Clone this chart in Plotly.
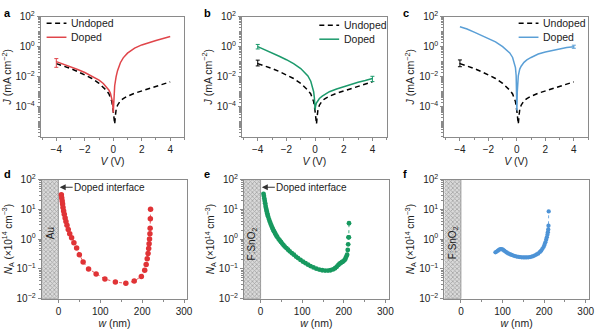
import plotly.graph_objects as go

# ---------------- data ----------------
V_undoped = [-4, -3.5, -3, -2.5, -2, -1.5, -1, -0.7, -0.5, -0.3, -0.2, -0.1, 0, 0.05, 0.1, 0.15,
             0.2, 0.3, 0.5, 0.7, 1, 1.5, 2, 2.5, 3, 3.5, 4]
J_undoped = [7.4e-2, 5.2e-2, 3.5e-2, 2.2e-2, 1.35e-2, 7.6e-3, 3.6e-3, 2.0e-3, 1.26e-3, 7.1e-4, 4.5e-4,
             2.2e-4, 5.0e-5, 1.6e-5, 7e-6, 2.5e-5, 6.3e-5, 1.26e-4, 2.5e-4, 3.5e-4, 5.0e-4, 7.9e-4,
             1.12e-3, 1.6e-3, 2.2e-3, 3.2e-3, 4.5e-3]

V_doped = [-4, -3.5, -3, -2.5, -2, -1.5, -1, -0.7, -0.5, -0.3, -0.2, -0.1, -0.05, 0, 0.03, 0.05,
           0.1, 0.2, 0.3, 0.5, 0.7, 1, 1.5, 2, 2.5, 3, 3.5, 4]
J_doped_a = [0.1, 0.069, 0.046, 0.030, 0.019, 0.0112, 5.9e-3, 3.5e-3, 2.2e-3, 1.26e-3, 7.9e-4, 4e-4,
             2e-4, 4e-5, 1.6e-4, 5e-4, 2.5e-3, 0.01, 0.025, 0.085, 0.18, 0.37, 0.8, 1.3, 1.9, 2.6,
             3.5, 4.7]
J_doped_b = [1.0, 0.63, 0.38, 0.23, 0.135, 0.074, 0.035, 0.019, 0.0112, 5e-3, 2.5e-3, 1e-3, 4e-4,
             6.3e-5, 1.0e-4, 1.26e-4, 1.8e-4, 2.5e-4, 3.5e-4, 5e-4, 6.6e-4, 1e-3, 1.5e-3, 2.2e-3,
             3.2e-3, 4.3e-3, 5.6e-3, 7.6e-3]
J_doped_c = [21, 15, 9.3, 5.8, 3.5, 2.1, 1.0, 0.6, 0.38, 0.19, 0.1, 0.04, 0.0115, 5.6e-5, 1e-3,
             3.5e-3, 0.0115, 0.032, 0.05, 0.09, 0.13, 0.19, 0.32, 0.44, 0.56, 0.71, 0.87, 1.0]

# error bars (value, upper, lower) at end points
err_a_doped = dict(V=[-4], J=[0.1], up=[0.06], down=[0.058])
err_b_undoped = dict(V=[-4], J=[0.074], up=[0.052], down=[0.022])
err_b_doped = dict(V=[-4, 4], J=[1.0, 7.6e-3], up=[0.4, 3.0e-3], down=[0.3, 2.9e-3])
err_c_undoped = dict(V=[-4], J=[0.074], up=[0.056], down=[0.028])
err_c_doped = dict(V=[4], J=[1.0], up=[0.25], down=[0.22])

w_d = [7, 8, 9, 10, 11, 12.5, 14, 16, 18, 20.5, 23.5, 27, 31.5, 37, 43.5, 50, 59, 72, 90, 111,
       136, 161, 181, 198, 206, 209.5, 212, 214, 215.5, 216.5, 217.5, 218.5, 219, 219.5, 220]
NA_d = [31, 24, 19, 15, 11.5, 8.8, 6.8, 5.1, 3.9, 2.9, 2.1, 1.5, 1.1, 0.75, 0.5, 0.3, 0.17, 0.1,
        0.068, 0.046, 0.036, 0.033, 0.039, 0.056, 0.09, 0.14, 0.22, 0.33, 0.48, 0.7, 1.0, 1.5,
        2.3, 4.8, 10]

w_e = [7, 8, 9, 10, 11, 12, 13, 14, 15, 16, 17, 18, 20, 22, 24, 26, 28, 30, 32, 34, 36, 38, 40,
       43, 46, 49, 52, 55, 58, 62, 66, 70, 75, 80, 85, 90, 96, 102, 108, 114, 120, 127, 134, 141,
       148, 155, 162, 168, 174, 179, 183, 187, 190, 193, 196, 199, 202, 204, 206, 208, 209.5,
       210.5, 211.5, 212, 212.5]
NA_e = [33, 28, 23, 19, 16, 13, 11, 9.5, 8.3, 7.2, 6.4, 5.7, 4.7, 3.9, 3.3, 2.8, 2.4, 2.1, 1.85,
        1.65, 1.45, 1.3, 1.18, 1.02, 0.9, 0.8, 0.71, 0.63, 0.56, 0.5, 0.44, 0.39, 0.34, 0.3, 0.26,
        0.23, 0.2, 0.175, 0.155, 0.138, 0.124, 0.112, 0.102, 0.095, 0.09, 0.088, 0.088, 0.09,
        0.096, 0.105, 0.118, 0.135, 0.15, 0.16, 0.17, 0.18, 0.2, 0.22, 0.26, 0.3, 0.43, 0.67,
        1.15, 1.15, 3.4]

w_f = [83, 86, 89, 92, 95, 98, 101, 104, 107, 110, 114, 118, 122, 126, 130, 134, 138, 142, 146,
       150, 154, 158, 162, 166, 170, 174, 178, 182, 186, 190, 193, 196, 199, 201, 203, 205, 206.5,
       208, 209, 210, 210.5, 211]
NA_f = [0.36, 0.38, 0.41, 0.44, 0.46, 0.46, 0.44, 0.41, 0.38, 0.355, 0.33, 0.31, 0.295, 0.28,
        0.27, 0.26, 0.255, 0.25, 0.245, 0.243, 0.242, 0.243, 0.245, 0.25, 0.258, 0.27, 0.285,
        0.305, 0.33, 0.37, 0.41, 0.47, 0.55, 0.65, 0.78, 0.95, 1.15, 1.4, 1.7, 2.1, 2.8, 8.5]

substrate_w = [-40, 0]          # hatched contact layer region
substrate_names = ["Au", "F:SnO<sub>2</sub>", "F:SnO<sub>2</sub>"]
legend_labels = ["Undoped", "Doped"]

RED, GREEN, BLUE = "#e0454a", "#1c9a6c", "#5a9fd6"
RED_M, GREEN_M, BLUE_M = "#e03336", "#17995f", "#4d93d6"
FONT = "Arial, 'Liberation Sans', sans-serif"
AXC = "#8a8a8a"

W, H = 600, 334
def xd(x0, x1):
    return [x0 / W, x1 / W]
def yd(y0, y1):
    return [1 - y1 / H, 1 - y0 / H]

fig = go.Figure()

# ---------------- top panels ----------------
top_cols = [(41, 186), (244, 390), (448, 593)]
doped = [J_doped_a, J_doped_b, J_doped_c]
colors = [RED, GREEN, BLUE]
errs_und = [None, err_b_undoped, err_c_undoped]
errs_dop = [err_a_doped, err_b_doped, err_c_doped]
UND_DASH = "5px,3.5px"
for i in range(3):
    xa = "x" if i == 0 else f"x{i+1}"
    ya = "y" if i == 0 else f"y{i+1}"
    fig.add_trace(go.Scatter(x=V_undoped, y=J_undoped, mode="lines", name=legend_labels[0],
                             line=dict(color="black", width=1.5, dash=UND_DASH),
                             xaxis=xa, yaxis=ya, showlegend=False))
    fig.add_trace(go.Scatter(x=V_doped, y=doped[i], mode="lines", name=legend_labels[1],
                             line=dict(color=colors[i], width=1.5),
                             xaxis=xa, yaxis=ya, showlegend=False))
    for e, c in ((errs_und[i], "black"), (errs_dop[i], colors[i])):
        if e is None:
            continue
        fig.add_trace(go.Scatter(x=e["V"], y=e["J"], mode="markers", showlegend=False,
                                 marker=dict(size=1, color=c),
                                 error_y=dict(type="data", array=e["up"], arrayminus=e["down"],
                                              color=c, thickness=1, width=2),
                                 xaxis=xa, yaxis=ya))

# ---------------- bottom panels ----------------
bot_cols = [(42, 189), (246, 392), (448, 594)]
ws = [w_d, w_e, w_f]
nas = [NA_d, NA_e, NA_f]
mcols = [RED_M, GREEN_M, BLUE_M]
msizes = [5.5, 4.8, 4.3]
for i in range(3):
    k = i + 4
    xa, ya = f"x{k}", f"y{k}"
    # hatched layer
    fig.add_trace(go.Scatter(x=[substrate_w[0], substrate_w[1], substrate_w[1], substrate_w[0]],
                             y=[0.01, 0.01, 100, 100], fill="toself", mode="lines",
                             line=dict(color="#8a8a8a", width=0.8),
                             fillcolor="#cfcfcf",
                             fillpattern=dict(shape="x", size=3, solidity=0.45,
                                              fgcolor="#6e6e6e", bgcolor="#dadada"),
                             showlegend=False, hoverinfo="skip", xaxis=xa, yaxis=ya))
    fig.add_trace(go.Scatter(x=ws[i], y=nas[i], mode="lines+markers", showlegend=False,
                             line=dict(color=mcols[i], width=0.8, dash="dot"),
                             marker=dict(size=msizes[i], color=mcols[i]),
                             xaxis=xa, yaxis=ya))

# ---------------- axes ----------------
def sup(n):
    s = str(abs(n))
    return "10<sup>" + ("−" if n < 0 else "") + s + "</sup>"

top_ticks = [1e-4, 1e-2, 1, 100]
top_text = [sup(-4), sup(-2), sup(0), sup(2)]
bot_ticks = [1e-2, 1e-1, 1, 10, 100]
bot_text = [sup(-2), sup(-1), sup(0), sup(1), sup(2)]

common = dict(showline=True, linecolor=AXC, linewidth=1, mirror=True, showgrid=False,
              zeroline=False, ticks="outside", ticklen=3, tickcolor=AXC, tickwidth=1,
              tickfont=dict(family=FONT, size=10, color="#222"))

lay = dict(width=W, height=H, margin=dict(l=0, r=0, t=0, b=0), paper_bgcolor="white",
           plot_bgcolor="white", font=dict(family=FONT, size=10, color="#222"),
           showlegend=False)

for i in range(3):
    sx = "" if i == 0 else str(i + 1)
    lay["xaxis" + sx] = dict(common, domain=xd(*top_cols[i]), anchor="y" + sx, range=[-5.1, 5.0],
                             tickvals=[-4, -2, 0, 2, 4], ticktext=["−4", "−2", "0", "2", "4"],
                             minor=dict(dtick=1, ticks="outside", ticklen=2, tickcolor=AXC),
                             title=dict(text="<i>V</i> (V)", standoff=1,
                                        font=dict(family=FONT, size=10.5, color="#222")))
    lay["yaxis" + sx] = dict(common, domain=yd(10, 135), anchor="x" + sx, type="log",
                             range=[-6, 2], tickvals=top_ticks, ticktext=top_text,
                             minor=dict(dtick="D1", ticks="outside", ticklen=2, tickcolor=AXC),
                             title=dict(text="<i>J</i> (mA cm<sup>−2</sup>)", standoff=2,
                                        font=dict(family=FONT, size=10.5, color="#222")))
for i in range(3):
    k = str(i + 4)
    lay["xaxis" + k] = dict(common, domain=xd(*bot_cols[i]), anchor="y" + k, range=[-40, 308],
                            tickvals=[0, 100, 200, 300],
                            minor=dict(dtick=50, ticks="outside", ticklen=2, tickcolor=AXC),
                            title=dict(text="<i>w</i> (nm)", standoff=3,
                                       font=dict(family=FONT, size=10.5, color="#222")))
    lay["yaxis" + k] = dict(common, domain=yd(179.5, 303.5), anchor="x" + k, type="log",
                            range=[-2, 2], tickvals=bot_ticks, ticktext=bot_text,
                            minor=dict(dtick="D1", ticks="outside", ticklen=2, tickcolor=AXC),
                            title=dict(text="<i>N</i><sub>A</sub> (×10<sup>14</sup> cm<sup>−3</sup>)",
                                       standoff=2, font=dict(family=FONT, size=10, color="#222")))

fig.update_layout(**lay)

# legends (drawn as sample lines + labels)
leg_pos = [(47, 17), (322, 19), (523, 17)]
for i in range(3):
    lx, ly = leg_pos[i]
    for j, (lbl, col, dash) in enumerate(((legend_labels[0], "black", UND_DASH),
                                         (legend_labels[1], colors[i], "solid"))):
        yy = ly + j * 14.5
        fig.add_shape(type="line", xref="paper", yref="paper", x0=lx / W, x1=(lx + 20) / W,
                      y0=1 - yy / H, y1=1 - yy / H, line=dict(color=col, width=1.5, dash=dash))
        fig.add_annotation(x=(lx + 23) / W, y=1 - yy / H, xref="paper", yref="paper", text=lbl,
                           showarrow=False, xanchor="left", yanchor="middle",
                           font=dict(family=FONT, size=10.5, color="#222"))

# panel labels
for lab, (px, py) in zip("abcdef", [(2, 6), (204, 6), (404, 6), (2, 174), (204, 174), (404, 174)]):
    fig.add_annotation(x=px / W, y=1 - py / H, xref="paper", yref="paper", text=f"<b>{lab}</b>",
                       showarrow=False, xanchor="left", yanchor="middle",
                       font=dict(family=FONT, size=11, color="black"))

# substrate names
name_y = [0.2, -0.17, -0.12]
for i in range(3):
    k = str(i + 4)
    fig.add_annotation(x=(substrate_w[0] + substrate_w[1]) / 2, y=name_y[i], xref="x" + k,
                       yref="y" + k, text=substrate_names[i], textangle=-90, showarrow=False,
                       font=dict(family=FONT, size=10, color="#222"))

# doped interface arrows
for k in ("4", "5"):
    fig.add_annotation(x=3, y=1.74, xref="x" + k, yref="y" + k, text="Doped interface",
                       showarrow=True, ax=50, ay=0, arrowhead=2, arrowsize=1, arrowwidth=1.2,
                       arrowcolor="#333", font=dict(family=FONT, size=10, color="#222"))

fig.write_html("out.html")
